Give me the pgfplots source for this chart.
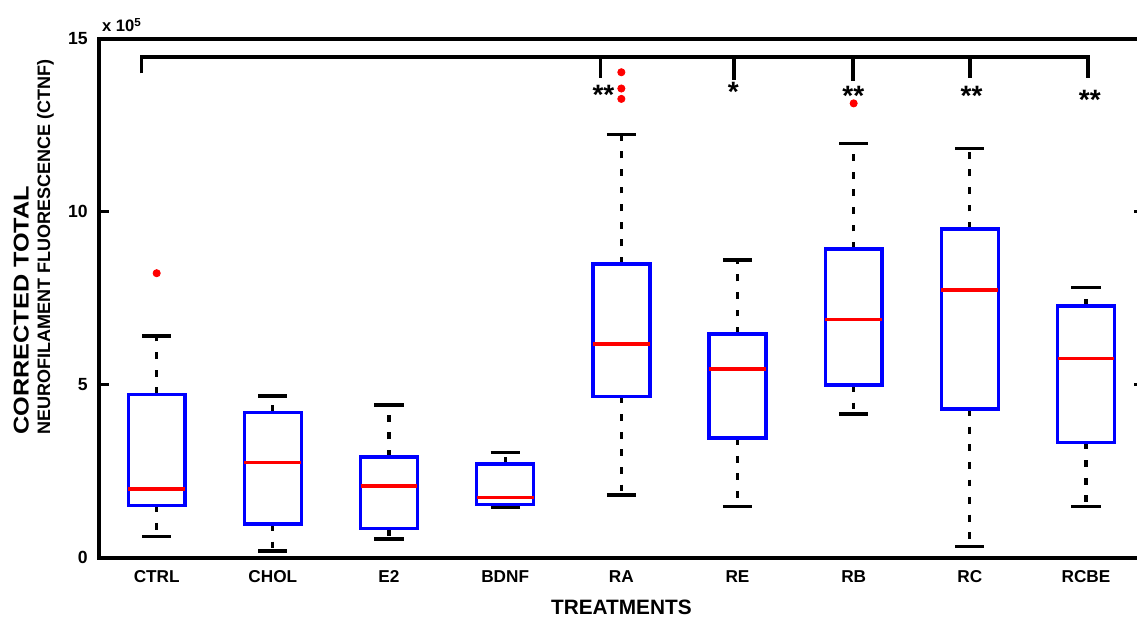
\documentclass[border=0pt]{standalone}
\usepackage{pgfplots}
\pgfplotsset{compat=1.18}
\usepgfplotslibrary{statistics}
\usepackage{fontspec}
\setmainfont{Liberation Sans}
\definecolor{mblue}{RGB}{0,0,255}
\definecolor{mred}{RGB}{255,0,0}
\begin{document}
\begin{tikzpicture}
\begin{axis}[
  at={(0,0)}, anchor=south west,
  scale only axis, width=522.75pt, height=259.4pt,
  xmin=0.5, xmax=9.5, ymin=0, ymax=15,
  axis line style={line width=2pt},
  xtick={1,2,3,4,5,6,7,8,9},
  xticklabels={CTRL,CHOL,E2,BDNF,RA,RE,RB,RC,RCBE},
  x tick style={draw=none},
  ytick={0,5,10,15},
  y tick style={line width=1.6pt, black},
  tick align=inside, major tick length=5pt,
  /pgf/number format/assume math mode=true,
  yticklabel style={font=\fontsize{8.8}{10}\selectfont\bfseries, inner sep=0pt, xshift=-5.3pt},
  xticklabel style={font=\fontsize{8.6}{10}\selectfont\bfseries, inner sep=0pt, anchor=north, yshift=-6.25pt},
  xlabel={TREATMENTS},
  xlabel style={at={(axis description cs:0.5,-0.0806)}, anchor=north, inner sep=0pt, font=\fontsize{10.4}{12}\selectfont\bfseries},
  ylabel={\scalebox{1.18}[1]{\fontsize{10.7}{10.7}\selectfont CORRECTED TOTAL}\\NEUROFILAMENT FLUORESCENCE (CTNF)},
  ylabel style={at={(axis description cs:-0.0816,0.2361)}, anchor=north west, align=left, inner sep=0pt, font=\fontsize{9}{10.7}\selectfont\bfseries},
  boxplot/draw direction=y,
  boxplot/box extend=0.49,
  boxplot/whisker extend=0.25,
  boxplot/every box/.style={draw=mblue, line width=1.7pt},
  boxplot/every median/.style={draw=mred, line width=1.7pt},
  boxplot/draw/whisker/.code 2 args={
    \draw[black, line width=1.6pt, dash pattern=on 3.4pt off 5.4pt] (boxplot cs:#1) -- (boxplot cs:#2);
    \draw[black, line width=1.7pt] (boxplot whisker cs:#2,0) -- (boxplot whisker cs:#2,1);
  },
  clip=false,
]
% CTRL
\addplot[boxplot prepared={draw position=1, lower whisker=0.60, lower quartile=1.51, median=1.98, upper quartile=4.72, upper whisker=6.41}] coordinates {};
% CHOL
\addplot[boxplot prepared={draw position=2, lower whisker=0.19, lower quartile=0.97, median=2.74, upper quartile=4.20, upper whisker=4.67}] coordinates {};
% E2
\addplot[boxplot prepared={draw position=3, lower whisker=0.54, lower quartile=0.83, median=2.07, upper quartile=2.91, upper whisker=4.41}] coordinates {};
% BDNF
\addplot[boxplot prepared={draw position=4, lower whisker=1.44, lower quartile=1.54, median=1.73, upper quartile=2.70, upper whisker=3.03}] coordinates {};
% RA
\addplot[boxplot prepared={draw position=5, lower whisker=1.81, lower quartile=4.65, median=6.17, upper quartile=8.49, upper whisker=12.23}] coordinates {};
% RE
\addplot[boxplot prepared={draw position=6, lower whisker=1.47, lower quartile=3.45, median=5.45, upper quartile=6.46, upper whisker=8.60}] coordinates {};
% RB
\addplot[boxplot prepared={draw position=7, lower whisker=4.15, lower quartile=4.99, median=6.89, upper quartile=8.92, upper whisker=11.97}] coordinates {};
% RC
\addplot[boxplot prepared={draw position=8, lower whisker=0.31, lower quartile=4.29, median=7.73, upper quartile=9.50, upper whisker=11.83}] coordinates {};
% RCBE
\addplot[boxplot prepared={draw position=9, lower whisker=1.47, lower quartile=3.32, median=5.75, upper quartile=7.27, upper whisker=7.81}] coordinates {};
% outliers
\addplot[only marks, mark=*, mark size=1.8pt, color=mred] coordinates {(1,8.22) (5,14.03) (5,13.56) (5,13.26) (7,13.13)};
% significance bracket
\addplot[black, line width=1.8pt, mark=none] coordinates {(0.871,14.00) (0.871,14.47) (9.018,14.47) (9.018,13.85)};
\addplot[black, line width=1.9pt, mark=none] coordinates {(4.821,14.47) (4.821,13.87)};
\addplot[black, line width=1.9pt, mark=none] coordinates {(5.970,14.47) (5.970,13.81)};
\addplot[black, line width=1.9pt, mark=none] coordinates {(6.997,14.47) (6.997,13.79)};
\addplot[black, line width=1.9pt, mark=none] coordinates {(7.998,14.47) (7.998,13.86)};
\node[anchor=base, inner sep=0pt, font=\fontsize{14}{14}\selectfont\bfseries] at (axis cs:4.846,13.10) {**};
\node[anchor=base, inner sep=0pt, font=\fontsize{14}{14}\selectfont\bfseries] at (axis cs:5.963,13.17) {*};
\node[anchor=base, inner sep=0pt, font=\fontsize{14}{14}\selectfont\bfseries] at (axis cs:6.997,13.06) {**};
\node[anchor=base, inner sep=0pt, font=\fontsize{14}{14}\selectfont\bfseries] at (axis cs:8.015,13.06) {**};
\node[anchor=base, inner sep=0pt, font=\fontsize{14}{14}\selectfont\bfseries] at (axis cs:9.033,12.96) {**};
\node[anchor=base west, inner sep=0pt, font=\fontsize{8.3}{10}\selectfont\bfseries] at (rel axis cs:0.003,1.0135) {x 10\textsuperscript{5}};
\end{axis}
\pgfresetboundingbox
\useasboundingbox (-49.3pt,-29.75pt) rectangle (519.2pt,278.75pt);
\end{tikzpicture}
\end{document}
